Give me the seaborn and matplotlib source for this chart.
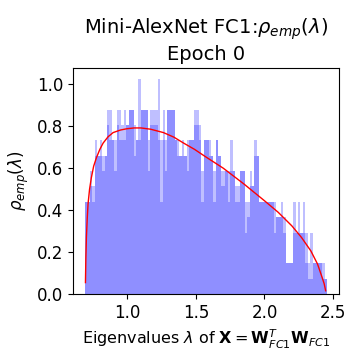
import numpy as np
import matplotlib
matplotlib.use("Agg")
import matplotlib.pyplot as plt
import seaborn as sns

# ESD histogram, 100 bins, read off the picture as counts per bin
# two overlaid histograms (alpha 0.25 each): lower and upper layer
bin_lo, bin_hi, n_bins = 0.693, 2.456, 100
unit = 0.0733   # density of one eigenvalue in a bin

counts_a = [6, 6, 7, 6, 9, 9, 9, 8, 9, 11,
            10, 10, 8, 11, 10, 10, 10, 11, 12, 12,
            9, 10, 10, 12, 12, 12, 8, 11, 11, 11,
            10, 6, 10, 8, 12, 12, 12, 10, 9, 9,
            9, 9, 8, 10, 10, 11, 11, 10, 6, 10,
            10, 9, 9, 6, 10, 9, 7, 7, 8, 6,
            8, 8, 6, 6, 8, 8, 4, 5, 7, 7,
            9, 9, 6, 6, 6, 6, 6, 6, 4, 5,
            5, 5, 4, 2, 2, 2, 4, 4, 4, 4,
            4, 2, 1, 1, 2, 2, 2, 2, 1, 1]

counts_b = [6, 6, 8, 7, 10, 9, 10, 9, 9, 12,
            12, 10, 10, 12, 12, 11, 12, 11, 12, 12,
            11, 10, 14, 12, 12, 12, 10, 12, 12, 12,
            14, 10, 12, 10, 12, 12, 12, 10, 10, 9,
            10, 9, 10, 10, 10, 12, 12, 11, 8, 10,
            10, 10, 9, 8, 10, 9, 8, 8, 8, 8,
            10, 8, 7, 7, 8, 8, 6, 6, 8, 7,
            10, 9, 6, 6, 6, 6, 6, 6, 6, 5,
            5, 6, 5, 2, 2, 2, 6, 4, 6, 4,
            6, 4, 2, 4, 2, 2, 2, 2, 2, 1]

# red Marchenko-Pastur fit
mp_lambda = [0.695, 0.698, 0.702, 0.708, 0.714, 0.725, 0.738, 0.755, 0.775, 0.80,
             0.824, 0.86, 0.897, 0.95, 0.995, 1.05, 1.10, 1.17, 1.263, 1.34,
             1.41, 1.49, 1.57, 1.70, 1.85, 2.00, 2.10, 2.20, 2.27, 2.338,
             2.387, 2.42, 2.435, 2.446]
mp_rho = [0.055, 0.17, 0.27, 0.36, 0.43, 0.50, 0.555, 0.61, 0.65, 0.69,
          0.72, 0.75, 0.77, 0.782, 0.788, 0.792, 0.792, 0.786, 0.77, 0.748,
          0.72, 0.69, 0.655, 0.60, 0.525, 0.445, 0.39, 0.325, 0.27, 0.206,
          0.143, 0.08, 0.05, 0.016]

width = (bin_hi - bin_lo) / n_bins
centers = bin_lo + width * (np.arange(n_bins) + 0.5)

fig, ax = plt.subplots(figsize=(3.6, 3.6), dpi=100)
fig.subplots_adjust(left=0.203, right=0.942, bottom=0.183, top=0.811)

for c in (counts_a, counts_b):
    sns.histplot(x=centers, weights=np.array(c) * unit, bins=n_bins,
                 binrange=(bin_lo, bin_hi), color="blue", alpha=0.25,
                 linewidth=0, ax=ax)

sns.lineplot(x=mp_lambda, y=mp_rho, color="red", linewidth=1, ax=ax)

ax.set_title("Mini-AlexNet FC1:$\\rho_{emp}(\\lambda)$\nEpoch 0", fontsize=14)
ax.set_xlabel("Eigenvalues $\\lambda$ of $\\mathbf{X}=\\mathbf{W}_{FC1}^T\\mathbf{W}_{FC1}$",
              fontsize=11.5)
ax.set_ylabel("$\\rho_{emp}(\\lambda)$", fontsize=12)
ax.tick_params(labelsize=12)

fig.savefig("out.png", dpi=100)
